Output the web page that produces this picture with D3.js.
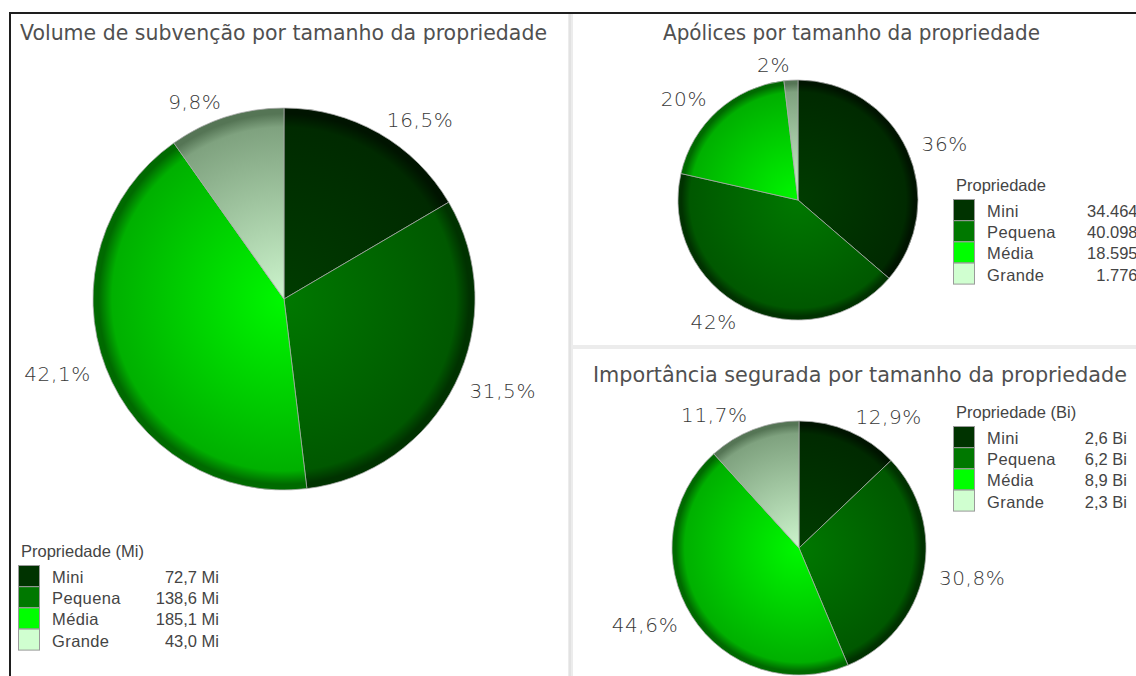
<!DOCTYPE html>
<html>
<head>
<meta charset="utf-8">
<script src="https://cdn.jsdelivr.net/npm/d3@7"></script>
<style>
  html, body { margin: 0; padding: 0; background: #fff; }
  svg { display: block; }
</style>
</head>
<body>
<svg id="chart" width="1136" height="676"></svg>
<script>
// ---------- DATA ----------
const categories = ["Mini", "Pequena", "Média", "Grande"];
const volumeMi = [72.7, 138.6, 185.1, 43.0];
const apolices = [34464, 40098, 18595, 1776];
const importanciaBi = [2.6, 6.2, 8.9, 2.3];
const importanciaPct = [12.9, 30.8, 44.6, 11.7];
const titles = [
  "Volume de subvenção por tamanho da propriedade",
  "Apólices por tamanho da propriedade",
  "Importância segurada por tamanho da propriedade"
];
const legendTitles = ["Propriedade (Mi)", "Propriedade", "Propriedade (Bi)"];

// ---------- STYLE ----------
const swatchColors = ["#003300", "#007800", "#00ff00", "#d0ffd0"];
const gradStops = [
  ["#003c00", "#002a00", "#001400"],
  ["#007800", "#005800", "#003200"],
  ["#00f800", "#00b000", "#006a00"],
  ["#cdf5cd", "#7fa27f", "#557555"]
];
const labelColor = "#383838";
const svg = d3.select("#chart");
const defs = svg.append("defs");

// frame
svg.append("rect").attr("x", 9).attr("y", 12).attr("width", 1127).attr("height", 2).attr("fill", "#1e1e1e");
svg.append("rect").attr("x", 9).attr("y", 12).attr("width", 2).attr("height", 664).attr("fill", "#1e1e1e");
svg.append("rect").attr("x", 568).attr("y", 14).attr("width", 5).attr("height", 662).attr("fill", "#ececec");
svg.append("rect").attr("x", 569).attr("y", 14).attr("width", 2).attr("height", 662).attr("fill", "#e2e2e2");
svg.append("rect").attr("x", 573).attr("y", 345).attr("width", 563).attr("height", 4).attr("fill", "#ececec");

const commaFmt = (f) => (v) => d3.format(f)(v).replace(".", ",");

function title(text, x, y, anchor, width) {
  svg.append("text")
    .attr("x", x).attr("y", y)
    .attr("text-anchor", anchor)
    .attr("font-family", "DejaVu Sans, Verdana, sans-serif")
    .attr("font-size", 20.5)
    .attr("fill", "#505050")
    .attr("textLength", width)
    .attr("lengthAdjust", "spacingAndGlyphs")
    .text(text);
}

function drawPie(id, cx, cy, r, shares, labelText) {
  const g = svg.append("g").attr("transform", `translate(${cx},${cy})`);
  const arcs = d3.pie().sort(null).value(d => d)(shares);
  const arc = d3.arc().innerRadius(0).outerRadius(r);
  arcs.forEach((a, i) => {
    const gid = `${id}-g${i}`;
    const gr = defs.append("radialGradient")
      .attr("id", gid).attr("gradientUnits", "userSpaceOnUse")
      .attr("cx", 0).attr("cy", 0).attr("r", r);
    gr.append("stop").attr("offset", 0).attr("stop-color", gradStops[i][0]);
    gr.append("stop").attr("offset", 0.9).attr("stop-color", gradStops[i][1]);
    gr.append("stop").attr("offset", 0.97).attr("stop-color", gradStops[i][2]);
    gr.append("stop").attr("offset", 1).attr("stop-color", gradStops[i][2]);
    g.append("path")
      .attr("d", arc(a))
      .attr("fill", `url(#${gid})`)
      .attr("stroke", "rgba(170,170,170,0.75)")
      .attr("stroke-width", 1);
  });
  const R = r + 16;
  arcs.forEach((a, i) => {
    const m = (a.startAngle + a.endAngle) / 2;
    const s = Math.sin(m), c = Math.cos(m);
    const px = R * s, py = -R * c;
    g.append("text")
      .attr("x", px)
      .attr("y", py + 7.5)
      .attr("text-anchor", s >= 0 ? "start" : "end")
      .attr("font-family", "DejaVu Sans, Verdana, sans-serif")
      .attr("font-size", 20)
      .attr("font-weight", 300)
      .attr("letter-spacing", 0.6)
      .attr("fill", labelColor)
      .text(labelText(a.data, i));
  });
}

function drawLegend(x, y, titleText, values, fmt, valueRight) {
  const g = svg.append("g");
  const fontFam = "Liberation Sans, Arial, sans-serif";
  g.append("text").attr("x", x + 3).attr("y", y - 8)
    .attr("font-family", fontFam).attr("font-size", 16.5).attr("fill", "#444")
    .text(titleText);
  const rowH = 21.2;
  categories.forEach((c, i) => {
    const ty = y + i * rowH;
    g.append("rect").attr("x", x + 0.5).attr("y", ty + 0.5)
      .attr("width", 21).attr("height", rowH - 0.2)
      .attr("fill", swatchColors[i]).attr("stroke", "#9a9a9a").attr("stroke-width", 1);
    g.append("text").attr("x", x + 34).attr("y", ty + 18)
      .attr("font-family", fontFam).attr("font-size", 16.5).attr("fill", "#444")
      .attr("letter-spacing", 0.4)
      .text(c);
    g.append("text").attr("x", valueRight).attr("y", ty + 18)
      .attr("text-anchor", "end")
      .attr("font-family", fontFam).attr("font-size", 16.5).attr("fill", "#444")
      .text(fmt(values[i]));
  });
}

// ---------- PANEL 1 ----------
title(titles[0], 20, 40, "start", 527);
const volSum = d3.sum(volumeMi);
drawPie("p1", 284, 299, 191, volumeMi, (v) => commaFmt(".1f")(v / volSum * 100) + "%");
drawLegend(18, 565, legendTitles[0], volumeMi, (v) => commaFmt(".1f")(v) + " Mi", 219);

// ---------- PANEL 2 ----------
title(titles[1], 851.5, 40, "middle", 377);
const apSum = d3.sum(apolices);
drawPie("p2", 798, 200, 120, apolices, (v) => Math.round(v / apSum * 100) + "%");
drawLegend(953, 199, legendTitles[1], apolices, (v) => d3.format(",")(v).replace(/,/g, "."), 1137.5);

// ---------- PANEL 3 ----------
title(titles[2], 860, 382, "middle", 534);
drawPie("p3", 799, 548, 127, importanciaPct, (v) => commaFmt(".1f")(v) + "%");
drawLegend(953, 426, legendTitles[2], importanciaBi, (v) => commaFmt(".1f")(v) + " Bi", 1127);
</script>
</body>
</html>
